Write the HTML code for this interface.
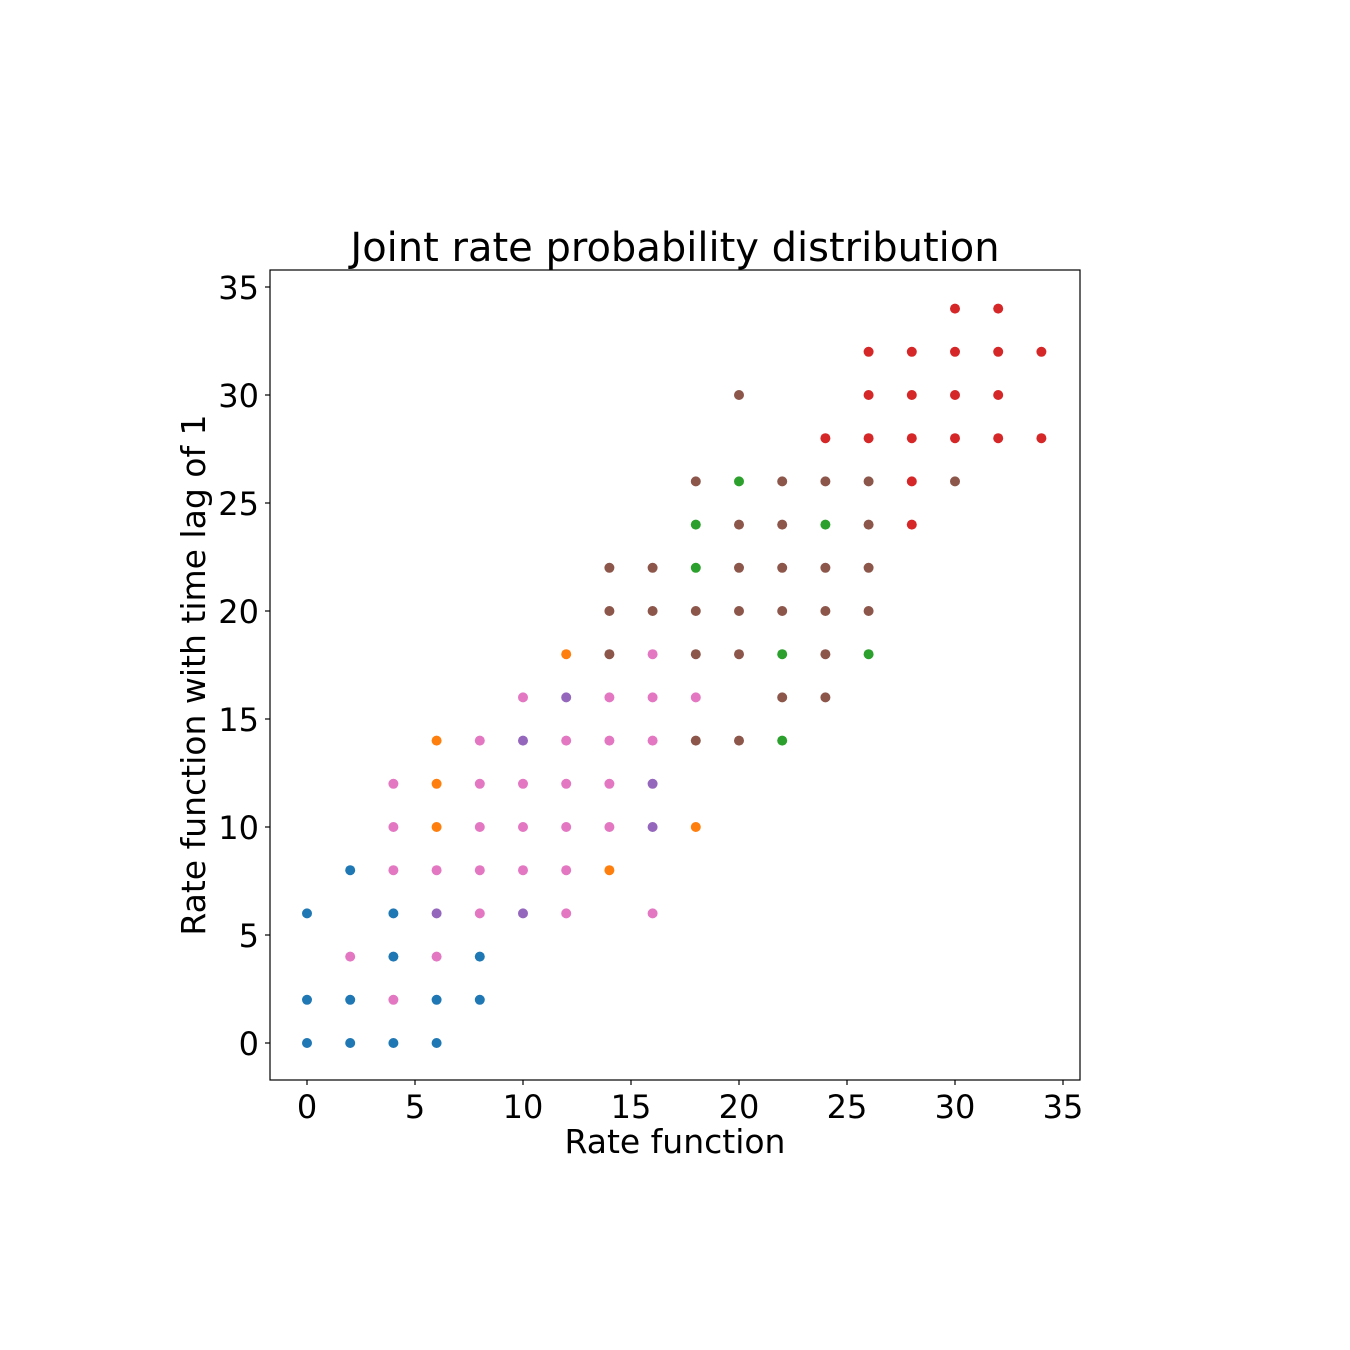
<!DOCTYPE html>
<html><head><meta charset="utf-8"><style>
html,body{margin:0;padding:0;background:#fff;}
svg{display:block;font-family:"DejaVu Sans","Liberation Sans",sans-serif;}
</style></head><body>
<svg id="chart" width="1350" height="1350" viewBox="0 0 1350 1350" xmlns="http://www.w3.org/2000/svg">
<rect width="1350" height="1350" fill="#fff"/>
<text x="675" y="261" text-anchor="middle" font-size="40" fill="#000">Joint rate probability distribution</text>
<g id="marks"></g>
<g id="axes"></g>
<text x="675" y="1153" text-anchor="middle" font-size="33" fill="#000">Rate function</text>
<text transform="translate(205,675) rotate(-90)" text-anchor="middle" font-size="33" fill="#000">Rate function with time lag of 1</text>
</svg>
<script>
const xTicks = [0,5,10,15,20,25,30,35];
const yTicks = [0,5,10,15,20,25,30,35];
const seriesNames = ['blue','orange','pink','purple','brown','green','red'];
const seriesColors = ['#1f77b4','#ff7f0e','#e377c2','#9467bd','#8c564b','#2ca02c','#d62728'];
const blueX = [0,0,0,2,2,2,4,4,4,6,6,8,8];
const blueY = [0,2,6,0,2,8,0,4,6,0,2,2,4];
const orangeX = [6,6,6,12,14,18];
const orangeY = [14,12,10,18,8,10];
const pinkX = [2,4,4,4,4,6,6,8,8,8,8,8,10,10,10,10,12,12,12,12,12,14,14,14,14,16,16,16,16,18];
const pinkY = [4,12,10,8,2,8,4,14,12,10,8,6,16,12,10,8,14,12,10,8,6,16,14,12,10,18,16,14,6,16];
const purpleX = [6,10,10,12,16,16];
const purpleY = [6,14,6,16,12,10];
const brownX = [14,14,14,16,16,18,18,18,18,20,20,20,20,20,20,22,22,22,22,22,24,24,24,24,24,26,26,26,26,30];
const brownY = [22,20,18,22,20,26,20,18,14,24,22,20,18,14,30,26,24,22,20,16,26,22,20,18,16,26,24,22,20,26];
const greenX = [18,18,20,22,22,24,26];
const greenY = [24,22,26,18,14,24,18];
const redX = [24,26,26,26,28,28,28,28,28,30,30,30,30,32,32,32,32,34,34];
const redY = [28,32,30,28,32,30,28,26,24,34,32,30,28,34,32,30,28,32,28];
const seriesX = [blueX,orangeX,pinkX,purpleX,brownX,greenX,redX];
const seriesY = [blueY,orangeY,pinkY,purpleY,brownY,greenY,redY];

const NS='http://www.w3.org/2000/svg';
const L=270,R=1080,T=270,B=1080;
const xScale=v=>307+v*21.6;
const yScale=v=>1043-v*21.6;
const marks=document.getElementById('marks');
seriesX.forEach((xs,si)=>{
  xs.forEach((xv,i)=>{
    const c=document.createElementNS(NS,'circle');
    c.setAttribute('cx',xScale(xv));
    c.setAttribute('cy',yScale(seriesY[si][i]));
    c.setAttribute('r',5);
    c.setAttribute('fill',seriesColors[si]);
    
    
    marks.appendChild(c);
  });
});
const axes=document.getElementById('axes');
const frame=document.createElementNS(NS,'rect');
frame.setAttribute('x',L);frame.setAttribute('y',T);
frame.setAttribute('width',R-L);frame.setAttribute('height',B-T);
frame.setAttribute('fill','none');frame.setAttribute('stroke','#000');frame.setAttribute('stroke-width','1.2');


axes.appendChild(frame);
xTicks.forEach(t=>{
  const x=xScale(t);
  const l=document.createElementNS(NS,'line');
  l.setAttribute('x1',x);l.setAttribute('x2',x);l.setAttribute('y1',B);l.setAttribute('y2',B+5);
  l.setAttribute('stroke','#000');l.setAttribute('stroke-width','1.2');
  
  
  axes.appendChild(l);
  const tx=document.createElementNS(NS,'text');
  tx.setAttribute('x',x);tx.setAttribute('y',B+38);tx.setAttribute('text-anchor','middle');
  tx.setAttribute('font-size','32');tx.textContent=t;
  
  
  axes.appendChild(tx);
});
yTicks.forEach(t=>{
  const y=yScale(t);
  const l=document.createElementNS(NS,'line');
  l.setAttribute('x1',L-5);l.setAttribute('x2',L);l.setAttribute('y1',y);l.setAttribute('y2',y);
  l.setAttribute('stroke','#000');l.setAttribute('stroke-width','1.2');
  
  
  axes.appendChild(l);
  const tx=document.createElementNS(NS,'text');
  tx.setAttribute('x',L-11);tx.setAttribute('y',y+12);tx.setAttribute('text-anchor','end');
  tx.setAttribute('font-size','32');tx.textContent=t;
  
  
  axes.appendChild(tx);
});
</script>
</body></html>
